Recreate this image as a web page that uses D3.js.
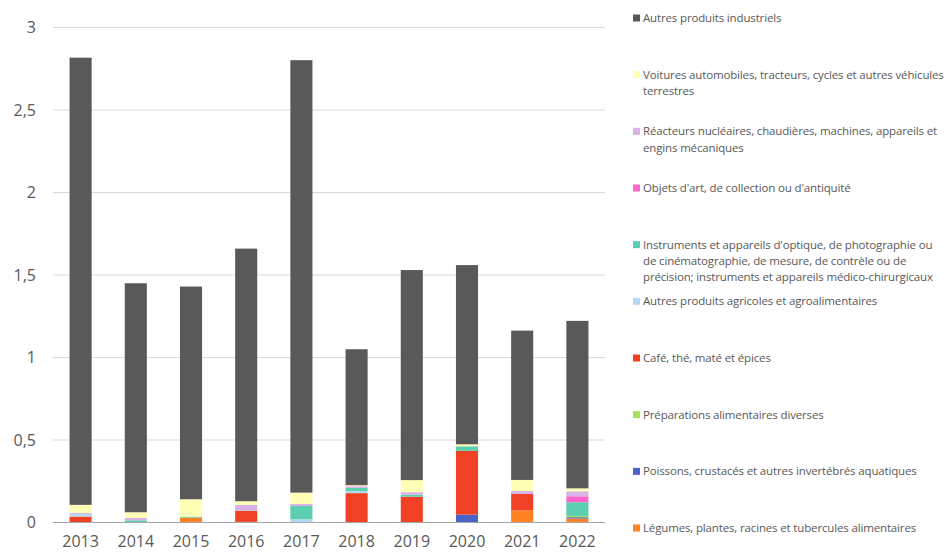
<!DOCTYPE html>
<html>
<head>
<meta charset="utf-8">
<script src="https://cdn.jsdelivr.net/npm/d3@7"></script>
<style>
  body { margin: 0; background: #fff; }
  svg { display: block; }
  text { font-family: "Segoe UI", "Open Sans", sans-serif; fill: #595959; }
</style>
</head>
<body>
<svg id="chart" width="948" height="559"></svg>
<script>
// ---- Data ----
const years = ["2013","2014","2015","2016","2017","2018","2019","2020","2021","2022"];

// stacking order: bottom -> top
const seriesKeys = ["legumes","poissons","preparations","cafe","agricoles","instruments","objets","reacteurs","voitures","industriels"];

const legumes      = [0,     0,     0.030, 0,     0,     0,     0,     0,     0.073, 0.024];
const poissons     = [0,     0,     0,     0,     0,     0,     0,     0.048, 0,     0.008];
const preparations = [0,     0,     0,     0.004, 0,     0,     0,     0,     0,     0.008];
const cafe         = [0.036, 0,     0,     0.067, 0,     0.178, 0.156, 0.386, 0.100, 0];
const agricoles    = [0.016, 0.003, 0,     0,     0.020, 0.012, 0,     0,     0,     0];
const instruments  = [0,     0.010, 0.006, 0.002, 0.080, 0.020, 0.012, 0.028, 0,     0.083];
const objets       = [0,     0,     0,     0,     0,     0,     0,     0,     0,     0.036];
const reacteurs    = [0.007, 0.015, 0,     0.034, 0.012, 0.010, 0.016, 0,     0.018, 0.030];
const voitures     = [0.048, 0.034, 0.105, 0.022, 0.069, 0.006, 0.073, 0.012, 0.067, 0.018];
const industriels  = [2.710, 1.388, 1.289, 1.531, 2.621, 0.824, 1.273, 1.086, 0.905, 1.015];

const seriesValues = { legumes, poissons, preparations, cafe, agricoles, instruments, objets, reacteurs, voitures, industriels };

const seriesLabels = {
  industriels: "Autres produits industriels",
  voitures: "Voitures automobiles, tracteurs, cycles et autres véhicules\nterrestres",
  reacteurs: "Réacteurs nucléaires, chaudières, machines, appareils et\nengins mécaniques",
  objets: "Objets d'art, de collection ou d'antiquité",
  instruments: "Instruments et appareils d'optique, de photographie ou\nde cinématographie, de mesure, de contrèle ou de\nprécision; instruments et appareils médico-chirurgicaux",
  agricoles: "Autres produits agricoles et agroalimentaires",
  cafe: "Café, thé, maté et épices",
  preparations: "Préparations alimentaires diverses",
  poissons: "Poissons, crustacés et autres invertébrés aquatiques",
  legumes: "Légumes, plantes, racines et tubercules alimentaires"
};

const seriesColors = {
  industriels: "#595959",
  voitures: "#FFFFB5",
  reacteurs: "#D9B2E8",
  objets: "#FF66CC",
  instruments: "#5BCFB0",
  agricoles: "#B5D8F5",
  cafe: "#F04124",
  preparations: "#A8E05A",
  poissons: "#4A63C8",
  legumes: "#FF8223"
};

const yTicks = [0, 0.5, 1, 1.5, 2, 2.5, 3];
const legendOrder = seriesKeys.slice().reverse();

// ---- Layout ----
const svg = d3.select("#chart");
const plot = { left: 53, right: 605, top: 27.5, bottom: 522.5 };

const x = d3.scaleBand().domain(years).range([plot.left, plot.right]).paddingInner(0.6).paddingOuter(0.3);
const y = d3.scaleLinear().domain([0, 3]).range([plot.bottom, plot.top]);

const fmt = v => String(v).replace(".", ",");

// gridlines
svg.append("g")
  .selectAll("line")
  .data(yTicks.filter(t => t > 0))
  .join("line")
  .attr("x1", plot.left).attr("x2", plot.right)
  .attr("y1", d => y(d)).attr("y2", d => y(d))
  .attr("stroke", "#d9d9d9").attr("stroke-width", 1);

// y axis labels
const yAxis = d3.axisLeft(y).tickValues(yTicks).tickFormat(fmt).tickSize(0).tickPadding(0);
const gy = svg.append("g").attr("transform", `translate(36,0)`).call(yAxis);
gy.select(".domain").remove();
gy.selectAll("text").attr("font-size", 16).attr("fill", "#595959")
  .style("font-family", '"Segoe UI", "Open Sans", sans-serif');

// stacked bars
const table = years.map((yr, i) => {
  const row = { year: yr };
  seriesKeys.forEach(k => row[k] = seriesValues[k][i]);
  return row;
});
const stack = d3.stack().keys(seriesKeys)(table);

svg.append("g")
  .selectAll("g")
  .data(stack)
  .join("g")
  .attr("fill", d => seriesColors[d.key])
  .selectAll("rect")
  .data(d => d)
  .join("rect")
  .attr("x", d => x(d.data.year))
  .attr("width", x.bandwidth())
  .attr("y", d => y(d[1]))
  .attr("height", d => Math.max(0, y(d[0]) - y(d[1])));

// x axis
const xAxis = d3.axisBottom(x).tickSize(0).tickPadding(0);
const gx = svg.append("g").attr("transform", `translate(0,${plot.bottom})`).call(xAxis);
gx.select(".domain").attr("stroke", "#a6a6a6").attr("stroke-width", 1.2)
  .attr("d", `M${plot.left},0H${plot.right}`);
gx.selectAll("text").attr("font-size", 16).attr("fill", "#595959").attr("dy", "1.55em")
  .style("font-family", '"Segoe UI", "Open Sans", sans-serif');

// legend
const ly = d3.scalePoint().domain(legendOrder).range([18, 528]);
const lg = svg.append("g").selectAll("g").data(legendOrder).join("g")
  .attr("transform", d => `translate(633,${ly(d)})`);
lg.append("rect").attr("x", 0).attr("y", -3.5).attr("width", 7).attr("height", 7)
  .attr("fill", d => seriesColors[d]);
lg.append("text")
  .attr("x", 10).attr("y", 0)
  .attr("font-size", 11.5)
  .attr("letter-spacing", "-0.15px")
  .each(function(d) {
    const lines = seriesLabels[d].split("\n");
    const t = d3.select(this);
    lines.forEach((ln, i) => {
      t.append("tspan").attr("x", 10).attr("dy", i === 0 ? "0.35em" : "16.3px").text(ln);
    });
  });
</script>
</body>
</html>
